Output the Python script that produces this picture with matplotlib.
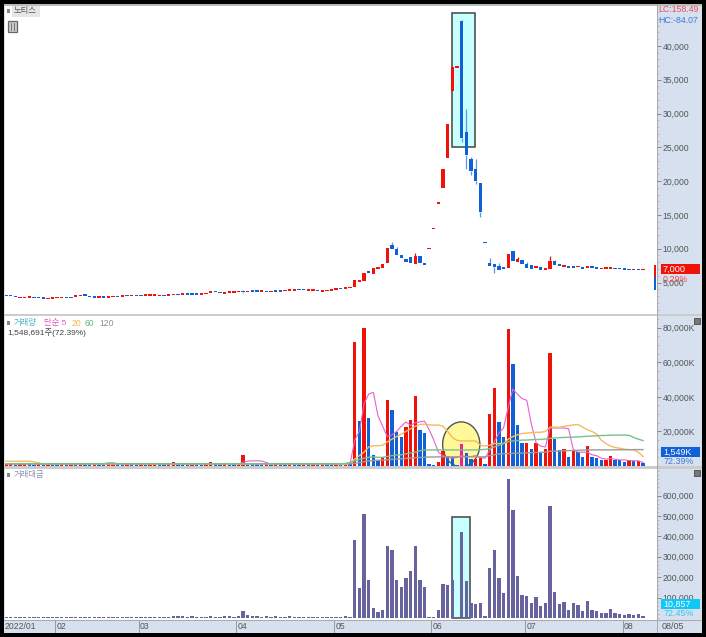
"""Daily chart of a Korean stock: candles, volume with moving averages, traded value."""
import numpy as np
import matplotlib
matplotlib.use("Agg")
import matplotlib.pyplot as plt
from matplotlib.patches import Rectangle, Ellipse
from matplotlib.ticker import FixedLocator, MultipleLocator

plt.rcParams['font.family'] = ['Liberation Sans', 'Noto Sans CJK KR', 'DejaVu Sans']

W, H = 706, 637
RED, BLUE = "#f01208", "#1060d8"
PANEL = "#d6e0ee"

# ---- candles ---- #
price_open = [
    3100, 3100, 2950, 2720, 2720, 2770, 2790, 2750, 2700, 2570,
    2620, 2720, 2720, 2790, 2750, 2900, 3000, 3150, 2950, 2850,
    2770, 2850, 2770, 2860, 2950, 2910, 3100, 3010, 3100, 3100,
    3060, 3060, 3060, 2960, 3100, 3060, 3110, 3200, 3210, 3300,
    3300, 3300, 3210, 3300, 3480, 3700, 3520, 3350, 3490, 3490,
    3590, 3800, 3600, 3740, 3700, 3640, 3680, 3600, 3700, 3700,
    3750, 3800, 3800, 3930, 3930, 3800, 3800, 3830, 3620, 3680,
    3790, 3940,
    4200, 4110, 4150, 4300, 5040, 5290, 6770, 6320, 6960, 7110,
    7950, 10550, 10010, 9130, 8540, 8780, 7750, 8880, 7850, 9900,
    12850, 16650, 19020, 23350, 33330, 36800, 43660, 27280, 23250, 21770,
    19650, 10950, 7850, 7700, 7500, 7300, 7210, 9720, 8100, 8390,
    7700, 7550, 7110, 7260, 6820, 7010, 8140, 7750, 7360, 7450,
    7450, 7260, 7350, 7160, 7450, 7260, 7010, 7060, 7060, 7160,
    7110, 7060, 7060, 6820, 6960, 6820,
]
price_close = [
    3000, 3000, 2860, 2790, 2790, 2840, 2720, 2660, 2610, 2650,
    2700, 2790, 2790, 2720, 2660, 3000, 3100, 3050, 2860, 2760,
    2840, 2760, 2840, 2950, 2860, 3000, 3000, 3090, 3000, 3000,
    3140, 3140, 3140, 3040, 3000, 3140, 3190, 3100, 3290, 3210,
    3210, 3210, 3290, 3400, 3620, 3580, 3400, 3450, 3600, 3600,
    3700, 3600, 3680, 3660, 3620, 3710, 3600, 3680, 3620, 3620,
    3830, 3880, 3880, 3850, 3850, 3880, 3880, 3750, 3710, 3760,
    3880, 4040,
    4060, 4300, 4400, 5390, 5340, 6470, 6420, 7110, 7260, 7800,
    10110, 9960, 9080, 8630, 8050, 7950, 8930, 7850, 7550, 10000,
    13000, 16800, 21820, 28400, 36880, 36950, 26400, 23840, 21430, 20000,
    15470, 10800, 7450, 7350, 6860, 6960, 9230, 8190, 8540, 7750,
    7110, 7010, 7450, 6860, 7110, 8190, 7600, 7400, 7600, 7160,
    7160, 7450, 7060, 7450, 7160, 7060, 7160, 7210, 7210, 6960,
    6960, 6910, 6860, 6960, 6860, 7000,
]
# only the days with a visible wick
wick_high = {51: 3950, 83: 11050, 84: 10200, 88: 9300, 98: 43900, 99: 30700,
             100: 23600, 101: 23200, 104: 8600, 106: 7900, 110: 8800,
             112: 8000, 117: 8850, 118: 8400}
wick_low = {51: 3500, 98: 25800, 99: 21850, 100: 20900, 101: 19550,
            102: 14650, 105: 6450}

# ---- volume, thousands of shares ---- #
volume = [
    900, 1100, 800, 1000, 1200, 900, 850, 1000, 900, 1100,
    800, 750, 1000, 900, 1100, 850, 1000, 900, 800, 1050,
    900, 800, 1100, 1300, 900, 800, 1000, 900, 850, 1100,
    800, 900, 1050, 850, 800, 1100, 2100, 1200, 900, 800,
    1000, 900, 850, 1100, 2200, 1200, 1000, 1500, 1300, 900,
    1100, 6200, 1500, 1200, 1000, 900, 1100, 850, 1000, 900,
    800, 1100, 900, 850, 1000, 900, 1100, 800, 1000, 900,
    850, 1200,
    1000, 2000, 1500, 72000, 26000, 80000, 27500, 6500, 3500, 5000,
    38000, 32500, 19500, 16500, 22500, 26500, 40500, 21000, 19000, 1000,
    500, 2500, 8500, 6000, 5300, 300, 12500, 7500, 4000, 4000,
    4500, 1000, 30000, 45000, 25500, 17000, 79000, 59000, 24000, 13500,
    13500, 10000, 13500, 8000, 10000, 65500, 15500, 9000, 10000, 5200,
    9500, 8000, 5000, 11500, 5200, 4500, 3500, 3500, 5700, 3700,
    3200, 2200, 3200, 2800, 2800, 1549,
]
vol_ma5 = [1100] * 46 + [1200, 1500, 1300, 1200, 1200, 2200, 2800, 3000, 3000, 2900, 2000, 1100] + [1100] * 14 + [
    1000, 1200, 1400, 15000, 20000, 36000, 41600, 42600, 29000, 23000,
    17000, 18000, 20000, 23000, 25500, 23500, 25000, 25500, 26000, 21000,
    15000, 8000, 6000, 5000, 4500, 5000, 6000, 5500, 5500, 6000,
    5000, 4500, 9000, 14000, 19000, 22000, 34000, 44500, 41500, 39000,
    38000, 24000, 13500, 11500, 11000, 22000, 22000, 22000, 22000, 21500,
    9500, 8000, 8000, 8000, 6500, 6000, 4500, 4000, 4300, 3900,
    3500, 3500, 3200, 3000, 3000, 2000,
]
vol_ma20 = [2700] * 6 + [2400, 1800, 1100] + [1100] * 63 + [
    800, 900, 1500, 4000, 6000, 8000, 11000, 11700, 11700, 12000,
    14000, 15500, 17000, 18500, 20000, 21500, 23000, 24000, 24200, 23800,
    23600, 23700, 23000, 20000, 16500, 14800, 14500, 14500, 14500, 14500,
    12000, 11500, 12000, 13000, 13000, 13000, 15500, 17000, 18000, 18800,
    19000, 19300, 19500, 19500, 20000, 22500, 22500, 22300, 23000, 23300,
    23800, 24000, 22500, 21000, 20000, 18500, 15000, 13000, 11500, 10700,
    10300, 9700, 9500, 9300, 8000, 5500,
]
vol_ma60 = [1300] * 22 + [1800, 1800] + [1300] * 48 + [
    1300, 1500, 2000, 3000, 3800, 4500, 5000, 5200, 5000, 5000,
    5500, 6000, 6300, 6500, 7000, 7500, 8000, 8800, 9300, 9300,
    9300, 9300, 9300, 9300, 9300, 9300, 9300, 9300, 9300, 9300,
    9400, 9600, 10000, 11000, 12000, 13000, 14000, 14500, 14700, 15000,
    15000, 15200, 15300, 15400, 15600, 16000, 16200, 16400, 16500, 16600,
    16700, 16800, 17000, 17200, 17300, 17500, 17600, 17700, 17800, 17900,
    17900, 17900, 17700, 16500, 15500, 14700,
]
vol_ma120 = [1300] * 72 + [
    1300, 1300, 1300, 1500, 2000, 2500, 3000, 3200, 3300, 3400,
    3600, 3800, 4000, 4200, 4400, 4600, 4800, 5000, 5100, 5200,
    5200, 5300, 5300, 5300, 5300, 5300, 5300, 5300, 5300, 5300,
    5300, 5300, 6000, 6500, 7000, 7100, 7200, 7300, 7400, 7500,
    7600, 7700, 7800, 7900, 8000, 8500, 8600, 8700, 8800, 8900,
    9000, 9100, 9200, 9300, 9300, 9300, 9300, 9300, 9300, 9400,
    9400, 9400, 9400, 9500, 9500, 9500,
]

# ---- traded value, millions ---- #
amount = [
    4000, 5000, 4000, 4500, 5000, 4000, 4000, 4500, 4000, 5000,
    4000, 3500, 4500, 4000, 5000, 4000, 4500, 4000, 4000, 4500,
    4000, 3500, 5000, 6000, 4000, 4000, 4500, 4000, 4000, 5000,
    4000, 4000, 4500, 4000, 4000, 5000, 10000, 8000, 8000, 7000,
    8000, 7000, 4000, 5000, 9000, 7000, 6000, 9000, 8000, 7000,
    9000, 33000, 14000, 9000, 8000, 7000, 8000, 7000, 8000, 7000,
    7000, 8000, 7000, 6000, 7000, 6000, 7000, 4000, 5000, 4000,
    5000, 7000,
    5000, 10000, 6000, 380000, 145000, 510000, 187000, 48000, 30000, 37000,
    355000, 335000, 188000, 150000, 197000, 230000, 355000, 185000, 152000, 7000,
    4000, 38000, 168000, 160000, 187000, 3000, 420000, 182000, 75000, 68000,
    72000, 12000, 245000, 335000, 197000, 125000, 683000, 530000, 205000, 112000,
    108000, 75000, 102000, 57000, 72000, 550000, 128000, 68000, 77000, 40000,
    72000, 65000, 35000, 85000, 40000, 33000, 25000, 25000, 45000, 25000,
    22000, 16000, 20000, 15000, 20000, 10857,
]

price_ticks = [5000, 10000, 15000, 20000, 25000, 30000, 35000, 40000]
vol_ticks = [20000, 40000, 60000, 80000]
amount_ticks = [100000, 200000, 300000, 400000, 500000, 600000]
month_labels = ["2022/01", "02", "03", "04", "05", "06", "07", "08"]
month_starts = [0, 10.5, 28.5, 49.5, 70.5, 91.5, 111.6, 132.6]

fig = plt.figure(figsize=(W / 100, H / 100), dpi=100, facecolor="black")


def pane(x0, y0, x1, y1):
    a = fig.add_axes([x0 / W, 1 - y1 / H, (x1 - x0) / W, (y1 - y0) / H])
    a.set_xlim((x0 - 6) / 4.65, (x1 - 6) / 4.65)
    a.set_xticks([])
    for s in a.spines.values():
        s.set_visible(False)
    return a


def style_y(a, ticks, fmt, minor):
    a.yaxis.tick_right()
    a.yaxis.set_major_locator(FixedLocator(ticks))
    a.yaxis.set_minor_locator(MultipleLocator(minor))
    a.set_yticklabels([fmt(t) for t in ticks], fontsize=6.2, color="#555555")
    a.tick_params(axis="y", which="major", length=3.2, width=0.7, color="#888888", pad=1)
    a.tick_params(axis="y", which="minor", length=1.5, width=0.5, color="#aaaaaa")


# backdrop in pixel coordinates, panes go on top of it
bg = fig.add_axes([0, 0, 1, 1], zorder=0)
bg.set_xlim(0, W); bg.set_ylim(H, 0); bg.axis("off")
bg.add_patch(Rectangle((4, 4), 698, 629, fc=PANEL, ec="none"))
bg.add_patch(Rectangle((4, 4), 698, 1.5, fc="#bbbbbb", ec="none"))
bg.add_patch(Rectangle((4, 314), 698, 2, fc="#cccccc", ec="none"))
bg.add_patch(Rectangle((4, 466), 698, 3, fc="#cccccc", ec="none"))
bg.add_patch(Rectangle((4, 620), 698, 1, fc="#aaaaaa", ec="none"))
bg.add_patch(Rectangle((657, 4), 1, 629, fc="#aaaaaa", ec="none"))

x = np.arange(len(price_close))
opens = np.array(price_open, float)
closes = np.array(price_close, float)
up = closes >= opens

# ---- price pane ---- #
ax = pane(5, 5.5, 657, 314)
ax.set_ylim(342, 45980)
ax.set_zorder(1)
ax.add_patch(Rectangle((96, 25000), 4.95, 19850, fc="#c8ffff", ec="#444444", lw=1.1, zorder=1))
for i, hi in wick_high.items():
    ax.vlines(i, max(opens[i], closes[i]), hi, color=RED if up[i] else "#5d95e8", lw=0.9, zorder=2)
for i, lo in wick_low.items():
    ax.vlines(i, lo, min(opens[i], closes[i]), color=RED if up[i] else "#5d95e8", lw=0.9, zorder=2)
body = np.maximum(np.abs(closes - opens), 200)
ax.bar(x, body, bottom=np.minimum(opens, closes), width=0.72,
       color=[RED if u else BLUE for u in up], lw=0, zorder=3)
style_y(ax, price_ticks, lambda t: f"{t:,}", 1000)

# ---- volume pane ---- #
ax2 = pane(5, 316, 657, 466)
ax2.set_ylim(0, 86770)
ax2.set_zorder(1)
ax2.add_patch(Ellipse((97.9, 12500), 8, 26000, fc="#fff99a", ec="#555555", lw=1.0, zorder=1))
vol = np.array(volume, float)
vol_col = [RED if i == 0 or vol[i] >= vol[i - 1] else BLUE for i in range(len(vol))]
vol_col[98] = "#f0209a"
ax2.bar(x, vol, width=0.72, color=vol_col, lw=0, zorder=2)
ax2.plot(x, vol_ma5, color="#e860d0", lw=0.8, zorder=3)
ax2.plot(x, vol_ma20, color="#f5bb60", lw=1.0, zorder=3)
ax2.plot(x, vol_ma120, color="#9b9b9b", lw=1.0, zorder=3)
ax2.plot(x, vol_ma60, color="#78c08c", lw=1.0, zorder=3)
style_y(ax2, vol_ticks, lambda t: f"{t:,}K", 5000)

# ---- traded value pane ---- #
ax3 = pane(5, 469, 657, 620)
ax3.set_ylim(-9800, 730400)
ax3.set_zorder(1)
ax3.add_patch(Rectangle((96, 0), 3.87, 495000, fc="#c8ffff", ec="#444444", lw=1.1, zorder=1))
ax3.bar(x, amount, width=0.72, color="#66639f", lw=0, zorder=2)
style_y(ax3, amount_ticks, lambda t: f"{t:,}", 20000)

# ---- labels, in pixel coordinates ---- #
top = fig.add_axes([0, 0, 1, 1], zorder=5)
top.set_xlim(0, W); top.set_ylim(H, 0); top.axis("off")
top.patch.set_alpha(0)


def label(px, py, s, color="#555555", size=6.2, **kw):
    top.text(px, py, s, color=color, fontsize=size, va="center", **kw)


# date strip
for m, lab in zip(month_starts, month_labels):
    px = 6 + 4.65 * m
    if lab != "2022/01":
        top.plot([px, px], [621, 632], color="#999999", lw=0.7)
    label(px + (1.5 if lab != "2022/01" else -1), 626.5, lab)
label(662, 626.5, "08/05", size=6.5)

# price pane texts
top.add_patch(Rectangle((12, 6), 28, 11, fc="#e6e6e6", ec="none"))
label(14, 11, "노티스", size=6)
top.add_patch(Rectangle((7, 9), 2.5, 4, fc="#888888", ec="none"))
top.add_patch(Rectangle((8, 21), 9, 11, fc="#cccccc", ec="#666666", lw=0.9))
top.plot([11, 11], [23, 30], color="#666666", lw=0.6)
top.plot([14, 14], [23, 30], color="#666666", lw=0.6)
label(658, 10, "LC:158.49", color="#e85050", size=6.3)
label(658, 20.5, "HC:-84.07", color="#3f78d8", size=6.3)
top.add_patch(Rectangle((654, 265), 2.2, 12, fc=RED, ec="none"))
top.add_patch(Rectangle((654, 277), 2.2, 12.5, fc=BLUE, ec="none"))
top.add_patch(Rectangle((660.5, 263.5), 39, 10.5, fc=RED, ec="none"))
label(663, 269, "7,000", color="white", size=6.6)
label(663, 279.5, "0.29%", color="#e85050", size=6.4)

# volume pane texts
top.add_patch(Rectangle((7, 321), 2.5, 4, fc="#888888", ec="none"))
label(14, 323, "거래량", color="#4fb0c4", size=6)
label(44, 323, "단순 5", color="#e850c8", size=6)
label(72, 323, "20", color="#f0b850", size=6.2)
label(85, 323, "60", color="#60b880", size=6.2)
label(99, 323, "120", color="#909090", size=6.2)
label(7, 333, "1,548,691주(72.39%)", color="#444444", size=6)
top.add_patch(Rectangle((660.5, 446.7), 39, 10, fc=BLUE, ec="none"))
label(663, 452, "1,549K", color="white", size=6.4)
label(663, 461.5, "72.39%", color="#3f78d8", size=6.4)
top.add_patch(Rectangle((694, 318), 5.5, 5.5, fc="#777777", ec="#333333", lw=0.5))

# traded value pane texts
top.add_patch(Rectangle((7, 473), 2.5, 4, fc="#888888", ec="none"))
label(14, 475, "거래대금", color="#8f8fb0", size=6)
top.add_patch(Rectangle((660.5, 599), 39, 10, fc="#10c8f8", ec="none"))
label(663, 604, "10,857", color="white", size=6.4)
label(663, 614, "72.45%", color="#30c8f0", size=6.4)
top.add_patch(Rectangle((694, 470), 5.5, 5.5, fc="#777777", ec="#333333", lw=0.5))

fig.savefig("out.png", dpi=100, facecolor="black")
